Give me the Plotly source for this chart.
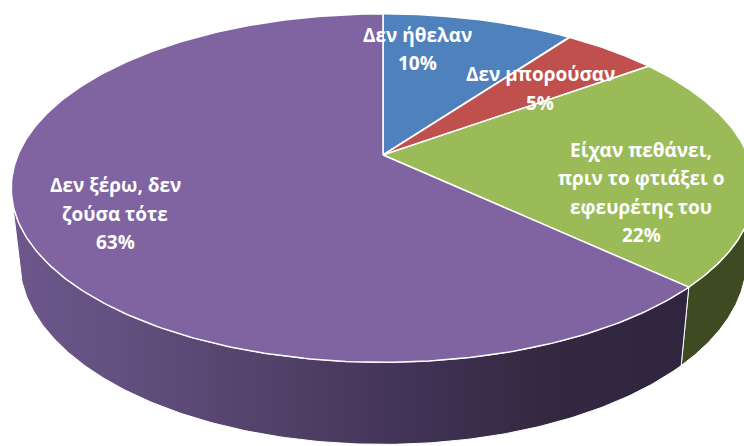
import numpy as np
import plotly.graph_objects as go

# ---------------- data ----------------
categories = [
    "Δεν ήθελαν",
    "Δεν μπορούσαν",
    "Είχαν πεθάνει,<br>πριν το φτιάξει ο<br>εφευρέτης του",
    "Δεν ξέρω, δεν<br>ζούσα τότε",
]
values = [10, 5, 22, 63]

# ---------------- styles ----------------
top_colors = ["#4f81bd", "#c0504d", "#9bbb59", "#8064a2"]
wall_colors = ["#2a4466", "#672a29", "#3e4b22", "#4e3e68"]
wall_gradients = [
    None,
    None,
    None,
    [[0, "#6d578b"], [0.15, "#645081"], [0.4, "#514067"],
     [0.62, "#3e3153"], [0.8, "#33283f"], [1, "#2f2540"]],
]

W, H = 744, 446

# 3D pie projection (layout parameters, page pixel space)
CX, CY = 383, 155          # screen position of pie centre
RADIUS_PX = 365            # horizontal radius at centre depth
DIST = 4.68                # camera distance (in pie radii)
TILT = np.radians(27.4)    # elevation angle
THICK = 0.225              # thickness (in pie radii)
FOCAL = RADIUS_PX * DIST
SA, CA = np.sin(TILT), np.cos(TILT)

# label blocks: (centre x, centre y) in pixels, line spacing
label_pos = [(417, 49), (540, 88.5), (641, 192.5), (115, 213.5)]
line_gap = 28.5


def project(theta, r, z):
    X = r * np.sin(theta)
    Y = r * np.cos(theta)
    yp = Y * SA + z * CA
    depth = DIST + Y * CA - z * SA
    return CX + FOCAL * X / depth, CY - FOCAL * yp / depth


total = float(sum(values))
bounds = np.concatenate([[0], np.cumsum(values)]) / total * 2 * np.pi

# visible range of the outer wall (normal facing the camera)
vis_c = -1.0 / (DIST * CA)
vis_lo = np.arccos(vis_c)
vis_hi = 2 * np.pi - vis_lo

fig = go.Figure()

# walls first
for i in range(len(values)):
    a0, a1 = max(bounds[i], vis_lo), min(bounds[i + 1], vis_hi)
    if a1 <= a0:
        continue
    th = np.linspace(a0, a1, 200)
    xt, yt = project(th, 1.0, 0.0)
    xb, yb = project(th[::-1], 1.0, -THICK)
    xs = np.concatenate([xt, xb, xt[:1]])
    ys = np.concatenate([yt, yb, yt[:1]])
    kw = dict(fillcolor=wall_colors[i])
    if wall_gradients[i] is not None:
        kw["fillgradient"] = dict(type="horizontal", colorscale=wall_gradients[i])
    fig.add_trace(go.Scatter(
        x=xs, y=ys, mode="lines", fill="toself",
        line=dict(color="white", width=1), hoverinfo="skip", **kw))

# top faces
for i in range(len(values)):
    th = np.linspace(bounds[i], bounds[i + 1], 300)
    xa, ya = project(th, 1.0, 0.0)
    x0, y0 = project(0.0, 0.0, 0.0)
    xs = np.concatenate([[x0], xa, [x0]])
    ys = np.concatenate([[y0], ya, [y0]])
    fig.add_trace(go.Scatter(
        x=xs, y=ys, mode="lines", fill="toself", fillcolor=top_colors[i],
        line=dict(color="white", width=1.5), hoverinfo="skip"))

# labels
for i, cat in enumerate(categories):
    lines = cat.split("<br>") + [f"{round(values[i] / total * 100)}%"]
    cx, cy = label_pos[i]
    n = len(lines)
    for k, txt in enumerate(lines):
        fig.add_annotation(
            x=cx, y=cy + (k - (n - 1) / 2) * line_gap, text=txt,
            showarrow=False, xanchor="center", yanchor="middle",
            font=dict(family="Open Sans", size=19, color="white", weight="bold"))

fig.update_layout(
    width=W, height=H,
    margin=dict(l=0, r=0, t=0, b=0),
    paper_bgcolor="white", plot_bgcolor="white", showlegend=False,
    xaxis=dict(range=[0, W], visible=False, fixedrange=True),
    yaxis=dict(range=[H, 0], visible=False, fixedrange=True),
)

fig.write_html(
    "out.html",
    config={"displayModeBar": False},
    post_script="document.body.style.margin='0';document.body.style.overflow='hidden';",
)
